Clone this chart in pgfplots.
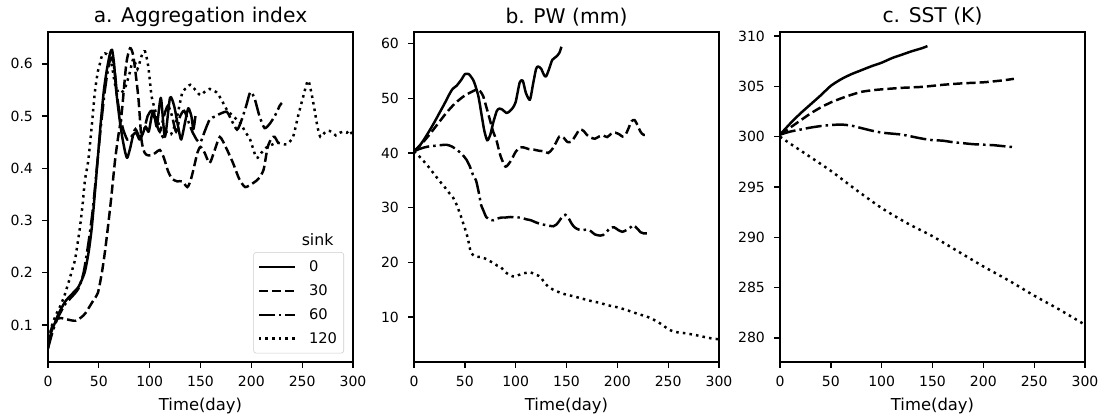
\documentclass[border=0pt]{standalone}
\usepackage{pgfplots}
\pgfplotsset{compat=1.18}
\usepackage{fontspec}
\setmainfont{DejaVu Sans}
\begin{document}
\begin{tikzpicture}
\useasboundingbox (0,0) rectangle (832.5pt,314.25pt);
\pgfplotsset{
  every axis/.append style={
    scale only axis, width=228.75pt, height=247.5pt,
    xmin=0, xmax=300, xtick={0,50,...,300},
    tick align=outside, tick pos=left,
    major tick length=4.4pt,
    axis line style={line width=1pt},
    every tick/.append style={line width=1pt, black},
    ticklabel style={font=\fontsize{10.5}{12}\selectfont},
    xticklabel style={yshift=-2.3pt},
    yticklabel style={xshift=-3.4pt},
    /pgf/number format/assume math mode=true,
    title style={font=\fontsize{15.2}{18}\selectfont, anchor=base, at={(0.5,1)}, yshift=0.75pt},
    xlabel={Time(day)},
    xlabel style={font=\fontsize{12.3}{14}\selectfont, at={(0.5,0)}, anchor=base, yshift=-36pt},
    legend image code/.code={\draw[#1] (0pt,0pt) -- (26.8pt,0pt);},
  },
  s0/.style={black, line width=1.85pt, solid, smooth, tension=0.4, line join=round},
  s30/.style={black, line width=1.85pt, dash pattern=on 6.9pt off 3pt, smooth, tension=0.4},
  s60/.style={black, line width=1.85pt, dash pattern=on 12pt off 3pt on 1.9pt off 3pt, smooth, tension=0.4},
  s120/.style={black, line width=1.85pt, dash pattern=on 1.9pt off 3.1pt, smooth, tension=0.4},
}
% ---------------- panel a ----------------
\begin{axis}[at={(36pt,42.75pt)}, anchor=south west,
  title={a. Aggregation index},
  ymin=0.029, ymax=0.661, ytick={0.1,0.2,...,0.6},
  yticklabel style={/pgf/number format/fixed, /pgf/number format/precision=1, /pgf/number format/fixed zerofill},
  legend style={at={(0.9705,0.026)}, anchor=south east, draw=black!20, rounded corners=2pt,
    font=\fontsize{11}{13}\selectfont, inner xsep=3pt, inner ysep=4pt, row sep=4.3pt,
    /tikz/every odd column/.append style={column sep=8pt}},
  legend cell align=left,
]
\addplot[s0] coordinates {(0,0.055)(3,0.085)(7,0.105)(10,0.12)(17,0.145)(24,0.16)(30,0.173)(36,0.2)(40,0.24)(43,0.285)(46,0.35)(49,0.42)(52,0.49)(55,0.55)(58,0.59)(61,0.62)(63,0.627)(65,0.6)(67,0.55)(70,0.5)(73,0.46)(76,0.43)(78,0.42)(81,0.44)(84,0.465)(87,0.467)(90,0.455)(93,0.465)(96,0.48)(99,0.47)(102,0.5)(104,0.51)(107,0.48)(111,0.535)(115,0.46)(120,0.535)(124,0.52)(128,0.48)(131,0.455)(135,0.49)(138,0.515)(141,0.5)(143,0.475)(145,0.5)};
\addlegendentry{0}
\addplot[s30] coordinates {(0,0.06)(3,0.09)(7,0.11)(13,0.113)(20,0.11)(27,0.108)(33,0.115)(37,0.123)(44,0.145)(49,0.161)(53,0.2)(56,0.24)(59,0.288)(62,0.34)(66,0.416)(69,0.46)(72.5,0.506)(77,0.6)(80.7,0.63)(84,0.614)(88.8,0.537)(92,0.454)(95,0.43)(98,0.425)(102,0.425)(106,0.43)(110,0.435)(114,0.42)(118,0.395)(122,0.38)(127,0.375)(132,0.375)(137,0.364)(140,0.375)(143,0.397)(147,0.43)(150,0.441)(154,0.43)(159,0.41)(164,0.435)(169,0.46)(175,0.44)(182,0.41)(188,0.38)(194,0.364)(202,0.372)(207,0.38)(212,0.397)(216,0.44)(220,0.458)(223,0.46)(226,0.45)(229,0.445)};
\addlegendentry{30}
\addplot[s60] coordinates {(0,0.055)(5,0.09)(10,0.115)(17,0.14)(24,0.155)(30,0.17)(35,0.2)(40,0.26)(44,0.32)(48,0.4)(52,0.48)(56,0.55)(60,0.6)(63,0.612)(66,0.58)(68,0.537)(71,0.5)(74,0.474)(78,0.455)(82,0.46)(86,0.475)(90,0.46)(94,0.47)(98,0.5)(102,0.51)(106,0.49)(110,0.47)(114,0.5)(118,0.52)(122,0.5)(126,0.47)(130,0.5)(134,0.51)(138,0.49)(142,0.47)(146.5,0.454)(150,0.45)(154,0.47)(159,0.493)(165,0.5)(170,0.505)(176,0.508)(181,0.49)(186,0.474)(190,0.49)(195,0.52)(199,0.546)(203,0.535)(208,0.5)(213,0.477)(218,0.485)(223,0.5)(228,0.52)(230,0.525)};
\addlegendentry{60}
\addplot[s120] coordinates {(0,0.06)(3.6,0.097)(8,0.12)(11.8,0.135)(16,0.155)(20,0.18)(23,0.2)(26.6,0.225)(29,0.255)(31.5,0.288)(34,0.33)(36.4,0.378)(39.7,0.416)(43,0.48)(46,0.544)(49,0.585)(51,0.6)(53,0.615)(56,0.62)(60,0.615)(63,0.595)(66,0.56)(70,0.544)(75,0.55)(80,0.58)(84,0.61)(88,0.59)(92,0.615)(95.4,0.624)(98.7,0.594)(102,0.537)(107,0.5)(110,0.475)(113,0.46)(117,0.47)(121,0.465)(126,0.49)(132,0.544)(137,0.555)(140,0.56)(145,0.55)(150,0.54)(155,0.548)(159,0.552)(166,0.545)(171,0.53)(176,0.512)(182,0.5)(189,0.487)(194,0.47)(199,0.454)(205,0.42)(210,0.43)(215,0.44)(220,0.445)(225,0.449)(230,0.447)(235,0.446)(241,0.46)(246,0.5)(251,0.537)(256,0.568)(261,0.525)(265,0.48)(268,0.46)(272,0.468)(275,0.472)(279,0.47)(283,0.463)(287,0.468)(290,0.47)(294,0.468)(297,0.473)(300,0.46)};
\addlegendentry{120}
\node[anchor=base, font=\fontsize{11.8}{14}\selectfont] at (rel axis cs:0.884,0.3545) {sink};
\end{axis}
% ---------------- panel b ----------------
\begin{axis}[at={(310.5pt,42.75pt)}, anchor=south west,
  title={b. PW (mm)},
  ymin=1.8, ymax=62.1, ytick={10,20,...,60},
]
\addplot[s0] coordinates {(0,40.3)(5,41.2)(10,42.5)(15,44)(20,45.6)(25,47.3)(30,49)(35,50.8)(38,51.7)(42,52.3)(47,53.5)(50,54.4)(54,54.4)(58,53.4)(60,52.5)(63.3,50.4)(66,47.5)(69,44.2)(72,42.3)(75,43.3)(78,45.6)(81.5,47.7)(84,48.1)(87,47.9)(91,47.3)(94,47.6)(97,48.2)(100,49.3)(104,52.9)(107,53.2)(110,51)(114,49.7)(117,52.5)(120,55.3)(122,55.8)(125,55.4)(128,54.2)(130,54)(133,55.4)(136,57)(140,57.6)(143,58.3)(145,59.4)};
\addplot[s30] coordinates {(0,40.3)(5,41.2)(10,42.2)(15,43.3)(20,44.5)(25,45.7)(30,46.9)(35,48)(40,49)(45,49.8)(50,50.5)(55,51)(61.7,51.6)(65,51.3)(68,50.4)(71,48.5)(74,46.5)(78,43.8)(81,42.4)(85,39.5)(90,37.5)(95,38.5)(100,40.2)(104,41)(108,41)(113,40.7)(118,40.6)(123,40.4)(128,40.3)(132,40)(136,40.7)(140,42)(143,43)(147,42.8)(151,42)(155,42.1)(159,43.2)(163,44.3)(167,44)(170,43.3)(174,42.8)(178,42.6)(182,43)(186,43.2)(190,42.9)(194,43.5)(198,43.7)(202,43.4)(205,43)(208,43.3)(211,44.5)(214,45.8)(217,46)(220,45)(223,43.8)(226,43.3)(229,43.4)};
\addplot[s60] coordinates {(0,40.3)(5,40.7)(10,41)(15,41.2)(20,41.3)(25,41.4)(32,41.5)(37,41.2)(42,40.6)(47,39.8)(51.5,38.8)(55,37.5)(58,36)(61,35)(64,32.5)(66,30.5)(68,29.6)(71,28.3)(74.5,27.8)(78,27.7)(82,28)(86,28.2)(90,28.2)(95,28.3)(100,28.2)(105,28.2)(110,27.9)(115,27.7)(120,27.3)(125,27)(130,26.8)(137,26.6)(140,26.9)(143,27.6)(146,28.4)(149,28.7)(152,28.1)(155,27.1)(158,26.4)(162,26)(166,25.9)(170,26)(174,25.7)(178,25.1)(183,24.9)(186,25)(190,25.7)(193,26.3)(197,26.4)(201,25.9)(205,25.6)(209,25.9)(213,26.4)(216,26.8)(220,26.1)(223,25.5)(226,25.3)(229,25.3)};
\addplot[s120] coordinates {(0,40.3)(5,39.4)(10,38.4)(15,37.3)(20,36.1)(25,34.9)(30,33.8)(35,32.6)(38,32)(42,30.5)(46,28.5)(49,26.8)(51.5,25.4)(54,23.5)(56,21.8)(60,21.1)(65,21)(70,20.7)(75,20.2)(78,19.9)(82,19.4)(85,19.2)(90,18.2)(95,17.6)(99,17.4)(103,17.7)(108,18)(114,18.2)(118,17.9)(124,17.4)(128,16.4)(132,15.6)(137,15)(142,14.6)(148,14.2)(157,13.8)(165,13.4)(175,12.9)(183,12.6)(190,12.2)(200,11.8)(209,11.3)(220,10.6)(229,10.1)(235,9.6)(240,9.1)(245,8.5)(250,7.8)(255,7.4)(260,7.2)(265,7.1)(270,6.95)(275,6.8)(280,6.6)(285,6.4)(290,6.2)(295,6.05)(300,5.95)};
\end{axis}
% ---------------- panel c ----------------
\begin{axis}[at={(585pt,42.75pt)}, anchor=south west,
  title={c. SST (K)},
  ymin=277.6, ymax=310.4, ytick={280,285,...,310},
]
\addplot[s0] coordinates {(0,300.2)(10,301.3)(20,302.3)(30,303.2)(40,304.1)(50,305.05)(60,305.7)(70,306.2)(80,306.6)(90,307)(100,307.35)(110,307.8)(120,308.15)(130,308.5)(140,308.8)(145,309)};
\addplot[s30] coordinates {(0,300.2)(10,300.9)(20,301.6)(30,302.3)(40,302.9)(50,303.4)(60,303.8)(70,304.15)(80,304.45)(90,304.6)(100,304.7)(120,304.85)(140,304.95)(160,305.15)(180,305.3)(200,305.4)(220,305.6)(230,305.75)};
\addplot[s60] coordinates {(0,300.2)(10,300.5)(20,300.7)(30,300.9)(40,301.05)(50,301.15)(60,301.2)(70,301.1)(80,300.85)(90,300.6)(100,300.4)(110,300.3)(120,300.2)(130,300)(140,299.8)(150,299.65)(160,299.6)(170,299.45)(180,299.35)(190,299.25)(200,299.2)(210,299.15)(220,299.05)(230,298.95)};
\addplot[s120] coordinates {(0,300)(10,299.3)(25,298.3)(50,296.6)(75,294.7)(100,292.9)(125,291.4)(150,290.1)(175,288.6)(200,287.1)(225,285.7)(250,284.2)(275,282.8)(300,281.3)};
\end{axis}
\end{tikzpicture}
\end{document}
